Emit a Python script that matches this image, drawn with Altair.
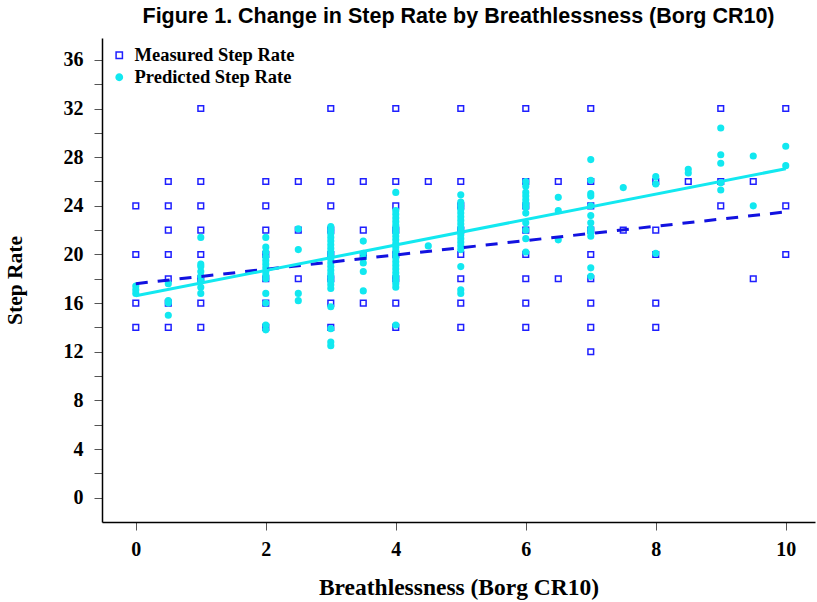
import altair as alt
import pandas as pd

# ---------------- data ----------------
borg_levels = [0, 0.5, 1, 2, 2.5, 3, 3.5, 4, 4.5, 5, 6, 6.5, 7, 7.5, 8, 8.5, 9, 9.5, 10]

measured_by_level = [
    [24, 20, 16, 14],
    [26, 24, 22, 20, 18, 16, 14],
    [32, 26, 24, 22, 20, 18, 16, 14],
    [26, 24, 22, 20, 18, 16, 14],
    [26, 22, 18],
    [32, 26, 24, 22, 20, 18, 16, 14],
    [26, 22, 20, 16],
    [32, 26, 24, 22, 20, 18, 16, 14],
    [26],
    [32, 26, 24, 22, 20, 18, 16, 14],
    [32, 26, 24, 22, 20, 18, 16, 14],
    [26, 18],
    [32, 26, 24, 22, 20, 18, 16, 14, 12],
    [22],
    [26, 22, 20, 16, 14],
    [26],
    [32, 26, 24],
    [26, 18],
    [32, 24, 20],
]

predicted_by_level = [
    [17.4, 17.1, 16.8],
    [17.6, 16.2, 16.0, 15.0],
    [21.4, 19.2, 19.0, 18.6, 18.2, 17.8, 17.3, 16.8],
    [21.4, 20.6, 20.2, 19.8, 19.5, 19.2, 18.9, 18.6, 18.3, 18.0, 16.8, 16.0, 14.2, 13.8],
    [22.1, 20.4, 16.8, 16.2],
    [22.3, 22.0, 21.7, 21.4, 21.1, 20.8, 20.5, 20.2, 19.9, 19.6, 19.3, 19.0, 18.7,
     18.4, 18.1, 17.8, 17.5, 17.2, 15.7, 13.9, 12.8, 12.5],
    [21.1, 20.1, 19.7, 19.3, 18.6, 17.0],
    [25.1, 23.6, 23.3, 23.0, 22.7, 22.4, 22.1, 21.8, 21.5, 21.2, 20.9, 20.6, 20.3,
     20.0, 19.7, 19.4, 19.1, 18.8, 18.5, 18.2, 17.9, 17.6, 17.3, 14.2],
    [20.7],
    [24.9, 24.3, 24.0, 23.7, 23.4, 23.1, 22.8, 22.5, 22.2, 21.9, 21.6, 21.3, 21.0,
     20.7, 20.4, 19.0, 17.1, 16.8],
    [26.0, 25.6, 25.1, 24.8, 24.5, 24.2, 23.9, 23.4, 22.6, 22.0, 21.3, 20.2],
    [24.7, 23.6, 21.2],
    [27.8, 26.1, 25.0, 24.8, 24.0, 23.2, 22.6, 22.1, 21.8, 21.5, 18.9, 18.2],
    [25.5],
    [26.4, 25.8, 20.1],
    [27.0, 26.7],
    [30.4, 28.2, 27.5, 25.9, 25.3],
    [28.1, 24.0],
    [28.9, 27.3],
]

# fitted lines (end points)
fit_x = [0, 10]
measured_fit = [17.6, 23.5]
predicted_fit = [16.6, 27.05]

series_names = ["Measured Step Rate", "Predicted Step Rate"]
x_ticks = [0, 2, 4, 6, 8, 10]
y_ticks = list(range(0, 37, 2))

# ---------------- build tables ----------------
rows = []
for lvl, vals in zip(borg_levels, measured_by_level):
    for v in vals:
        rows.append({"borg": lvl, "step": v, "series": series_names[0]})
for lvl, vals in zip(borg_levels, predicted_by_level):
    for v in vals:
        rows.append({"borg": lvl, "step": v, "series": series_names[1]})
df = pd.DataFrame(rows)

fit_df = pd.DataFrame({"borg": fit_x, "measured": measured_fit, "predicted": predicted_fit})

BLUE = "#1f1fff"
DBLUE = "#1212e0"
CYAN = "#12e8f0"

x_scale = alt.Scale(domain=[-0.52, 10.45], nice=False, zero=False)
y_scale = alt.Scale(domain=[-2, 37.8], nice=False, zero=False)

x_axis = alt.Axis(values=x_ticks, title="Breathlessness (Borg CR10)", grid=False,
                  labelPadding=9, titlePadding=16, titleFontSize=23.5)
y_axis = alt.Axis(values=y_ticks, title="Step Rate", grid=False,
                  labelExpr="datum.value % 4 == 0 ? datum.label : ''",
                  labelPadding=11, titlePadding=37, titleFontSize=21.5)

leg = alt.Legend(title=None, orient="none", legendX=8, legendY=8,
                 labelFont="Liberation Serif", labelFontWeight="bold",
                 labelFontSize=18.5, labelColor="black", symbolSize=40,
                 symbolStrokeWidth=1.5, rowPadding=3, labelOffset=6)

points = alt.Chart(df).mark_point(filled=False, opacity=1, strokeWidth=1.5, size=32).encode(
    x=alt.X("borg:Q", scale=x_scale, axis=x_axis),
    y=alt.Y("step:Q", scale=y_scale, axis=y_axis),
    shape=alt.Shape("series:N", scale=alt.Scale(domain=series_names, range=["square", "circle"]), legend=leg),
    color=alt.Color("series:N", scale=alt.Scale(domain=series_names, range=[BLUE, CYAN]), legend=leg),
    fill=alt.Fill("series:N", scale=alt.Scale(domain=series_names, range=["rgba(0,0,0,0)", CYAN]), legend=leg),
)

meas_line = alt.Chart(fit_df).mark_line(color=DBLUE, strokeWidth=3, strokeDash=[12, 10]).encode(
    x=alt.X("borg:Q", scale=x_scale, axis=x_axis),
    y=alt.Y("measured:Q", scale=y_scale, axis=y_axis),
)
pred_line = alt.Chart(fit_df).mark_line(color=CYAN, strokeWidth=3).encode(
    x=alt.X("borg:Q", scale=x_scale, axis=x_axis),
    y=alt.Y("predicted:Q", scale=y_scale, axis=y_axis),
)

chart = alt.layer(points, meas_line, pred_line).properties(
    width=713,
    height=484,
    autosize=alt.AutoSizeParams(type="none"),
    padding={"left": 102, "top": 38, "right": 2, "bottom": 80},
    background="white",
    title=alt.Title("Figure 1. Change in Step Rate by Breathlessness (Borg CR10)",
                    font="Liberation Sans", fontSize=21.5, fontWeight="bold",
                    color="black", anchor="middle", offset=11),
).configure_view(stroke=None).configure_axis(
    domainColor="black", domainWidth=1.5, tickColor="#555555", tickWidth=1, tickSize=8,
    labelFont="Liberation Serif", labelFontWeight="bold", labelFontSize=20, labelColor="black",
    titleFont="Liberation Serif", titleFontWeight="bold", titleColor="black",
)

chart.save("out.html", embed_options={"renderer": "svg", "actions": False})
